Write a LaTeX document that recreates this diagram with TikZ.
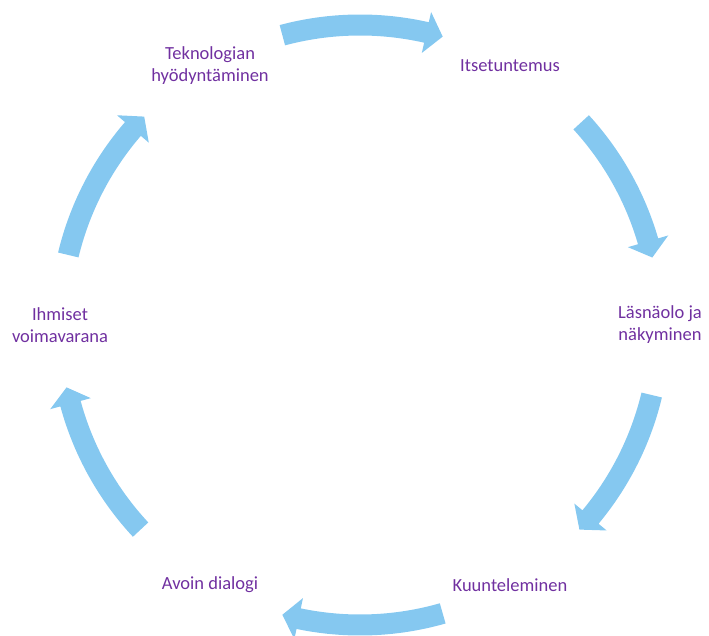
\documentclass[tikz,border=0pt]{standalone}
\usepackage{fontspec}
\setmainfont{Carlito}
\definecolor{cyclearrow}{RGB}{133,200,240}
\definecolor{labeltext}{RGB}{112,48,160}
\begin{document}
\begin{tikzpicture}[x=1pt,y=1pt,
  lbl/.style={text=labeltext, font=\fontsize{18.5}{22}\selectfont, align=center, inner sep=0pt},
  cyc/.style={fill=cyclearrow, draw=none}]
\useasboundingbox (0,0) rectangle (709,635);
\coordinate (C) at (360,310);
% curved block arrow on the ring: #1 = tail angle, #2 = tip angle
\newcommand\ringarrow[2]{%
  \fill[cyc] ([shift={(C)}]#1:310.5) arc[start angle=#1, end angle=#2+3.2, radius=310.5]
    -- ([shift={(C)}]#2+3.2:321) -- ([shift={(C)}]#2:300) -- ([shift={(C)}]#2+3.2:279)
    -- ([shift={(C)}]#2+3.2:289.5) arc[start angle=#2+3.2, end angle=#1, radius=289.5] -- cycle;}

\node[lbl] (itse) at ([shift={(C)}]60:300) {Itsetuntemus};
\node[lbl] (lasna) at ([shift={(C)}]0:300) {Läsnäolo ja\\näkyminen};
\node[lbl] (kuunt) at ([shift={(C)}]-60:300) {Kuunteleminen};
\node[lbl] (avoin) at ([shift={(C)}]-120:300) {Avoin dialogi};
\node[lbl] (ihmiset) at ([shift={(C)}]180:300) {Ihmiset\\voimavarana};
\node[lbl] (tekno) at ([shift={(C)}]120:300) {Teknologian\\hyödyntäminen};

\ringarrow{105}{74}
\ringarrow{42.5}{13}
\ringarrow{-13.5}{-43}
\ringarrow{-74}{-105}
\ringarrow{-137}{-168}
\ringarrow{166.5}{136}
\end{tikzpicture}
\end{document}
